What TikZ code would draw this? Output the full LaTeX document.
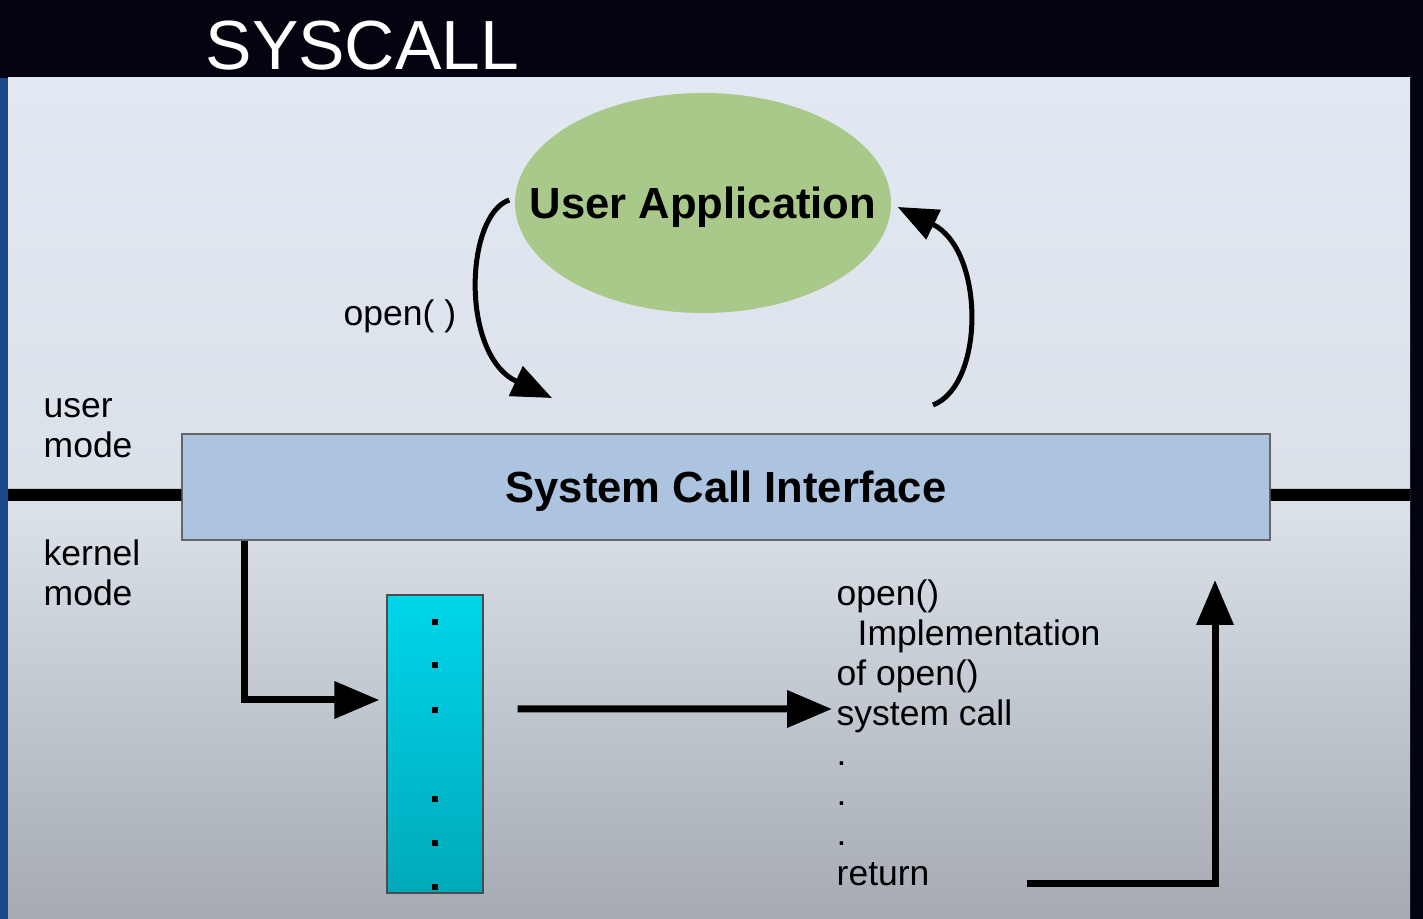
\documentclass[tikz,border=0pt]{standalone}
\usepackage{fontspec}
\setmainfont{Liberation Sans}
\usetikzlibrary{arrows.meta,shapes.geometric}
\definecolor{slidebg}{HTML}{03040F}
\definecolor{deskblue}{HTML}{1B4A8C}
\definecolor{paneltop}{HTML}{E2E9F2}
\definecolor{panelmid}{HTML}{D9E0E8}
\definecolor{panelbot}{HTML}{A6ABB3}
\definecolor{appgreen}{HTML}{A8C98A}
\definecolor{scifill}{HTML}{ADC4E0}
\definecolor{cyantop}{HTML}{00D6EA}
\definecolor{cyanbot}{HTML}{00A9BA}

\begin{document}
\begin{tikzpicture}[
    bigarrow/.style={line width=0.7mm, -{Triangle[length=4.5mm,width=3.6mm]}},
    curvearrow/.style={line width=0.5mm, -{Triangle[length=4mm,width=3.2mm]}},
    modeline/.style={line width=1.2mm},
    txt/.style={font=\fontsize{10.1}{11.4}\selectfont, inner sep=0pt, align=left, anchor=base west}
]
    \useasboundingbox (0,0) rectangle (14.23,-9.19);
    % slide background
    \fill[slidebg] (0,0) rectangle (14.23,-9.19);
    \fill[deskblue] (0,-0.78) rectangle (0.08,-9.19);
    \shade[top color=paneltop, bottom color=panelmid] (0.08,-0.78) rectangle (14.10,-5.20);
    \shade[top color=panelmid, bottom color=panelbot] (0.08,-5.20) rectangle (14.10,-9.19);
    \node[anchor=base west, inner sep=0pt, text=white, font=\fontsize{19.8}{22}\selectfont] (title) at (2.05,-0.70) {SYSCALL};

    % user application
    \node[ellipse, fill=appgreen, inner sep=0pt, minimum width=3.76cm, minimum height=2.2cm] (app) at (7.03,-2.03) {};
    \node[text depth=0pt, font=\fontsize{12.4}{14}\selectfont\bfseries] (apptext) at (app.center) {User Application};

    % system call interface
    \node[draw=black!60, fill=scifill, text depth=0pt, minimum width=10.88cm, minimum height=1.06cm, font=\fontsize{12.4}{14}\selectfont\bfseries] (sci) at (7.26,-4.87) {System Call Interface};
    \draw[modeline] (0.08,-4.95) -- ([yshift=-0.8mm]sci.west);
    \draw[modeline] ([yshift=-0.8mm]sci.east) -- (14.10,-4.95);

    \node[txt] (user) at (0.43,-4.58) {user\\mode};
    \node[txt] (kernel) at (0.43,-6.06) {kernel\\mode};

    % open() call and return
    \coordinate (callpt) at (5.52,-3.98);
    \coordinate (retpt) at (9.33,-4.05);
    \draw[curvearrow] ([xshift=-0.5mm,yshift=0.3mm]app.west) .. controls (4.65,-2.15) and (4.60,-3.55) .. (callpt);
    \draw[curvearrow] (retpt) .. controls (9.85,-3.85) and (9.85,-2.50) .. ([xshift=0.6mm,yshift=-0.4mm]app.east);
    \node[txt] (opencall) at (3.43,-3.26) {open( )};

    % system call table
    \node[draw=black!70, top color=cyantop, bottom color=cyanbot, minimum width=0.96cm, minimum height=2.98cm] (table) at (4.35,-7.44) {};
    \foreach \y in {6.22,6.65,7.10,7.99,8.43,8.87}
        \fill (4.32,-\y+0.03) rectangle (4.38,-\y-0.03);

    % implementation
    \node[txt] (impl) at (8.36,-8.86) {open()\\\hspace*{2.1mm}Implementation\\of open()\\system call\\.\\.\\.\\return};

    \coordinate (implin) at (8.32,-7.09);
    \coordinate (retout) at (10.27,-8.84);
    \coordinate (retup) at (12.15,-5.80);
    \draw[bigarrow] ([xshift=6.3mm]sci.south west) |- ([xshift=-0.7mm,yshift=4.4mm]table.west);
    \draw[bigarrow] ([xshift=3.4mm,yshift=3.5mm]table.east) -- (implin);
    \draw[bigarrow] (retout) -| (retup);
\end{tikzpicture}
\end{document}
